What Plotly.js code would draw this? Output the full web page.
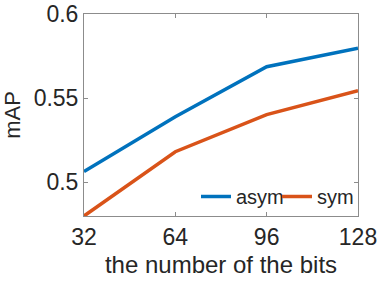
<!DOCTYPE html>
<html>
<head>
<meta charset="utf-8">
<script src="https://cdn.plot.ly/plotly-3.0.1.min.js"></script>
<style>html,body{margin:0;padding:0;background:#fff;}#chart{width:378px;height:284px;}</style>
</head>
<body>
<div id="chart"></div>
<script>
const bits = [32, 64, 96, 128];
const asymMAP = [0.5064, 0.5390, 0.5687, 0.5797];
const symMAP = [0.4800, 0.5182, 0.5402, 0.5544];
const seriesNames = ["asym", "sym"];
const yTickVals = [0.5, 0.55, 0.6];
const yTickText = ["0.5", "0.55", "0.6"];

const font = "Liberation Sans, Arial, Helvetica, sans-serif";
const traces = [
  {x: bits, y: asymMAP, name: seriesNames[0], mode: "lines", line: {color: "#0072BD", width: 3.5}},
  {x: bits, y: symMAP, name: seriesNames[1], mode: "lines", line: {color: "#D95319", width: 3.5}}
];
const axisCommon = {
  showgrid: false, zeroline: false, showline: true, mirror: "ticks",
  linecolor: "#8c8c8c", linewidth: 1, ticks: "inside", ticklen: 4, tickcolor: "#8c8c8c",
  tickfont: {family: font, size: 23, color: "#262626"}
};
const layout = {
  width: 378, height: 284,
  margin: {l: 84, r: 20, t: 14, b: 68},
  paper_bgcolor: "#fff", plot_bgcolor: "#fff",
  showlegend: true,
  legend: {orientation: "h", x: 1, xanchor: "right", y: 0, yanchor: "bottom",
    bgcolor: "rgba(0,0,0,0)", font: {family: font, size: 20, color: "#262626"},
    itemwidth: 30, tracegroupgap: 0, entrywidth: 36},
  xaxis: Object.assign({}, axisCommon, {
    range: [32, 128], tickvals: bits, ticktext: bits.map(String),
    title: {text: "the number of the bits", font: {family: font, size: 24, color: "#262626"}, standoff: 7}
  }),
  yaxis: Object.assign({}, axisCommon, {
    range: [0.48, 0.6], tickvals: yTickVals, ticktext: yTickText,
    title: {text: "mAP", font: {family: font, size: 22, color: "#262626"}, standoff: 6}
  })
};
Plotly.newPlot("chart", traces, layout, {displayModeBar: false, staticPlot: true});
</script>
</body>
</html>
